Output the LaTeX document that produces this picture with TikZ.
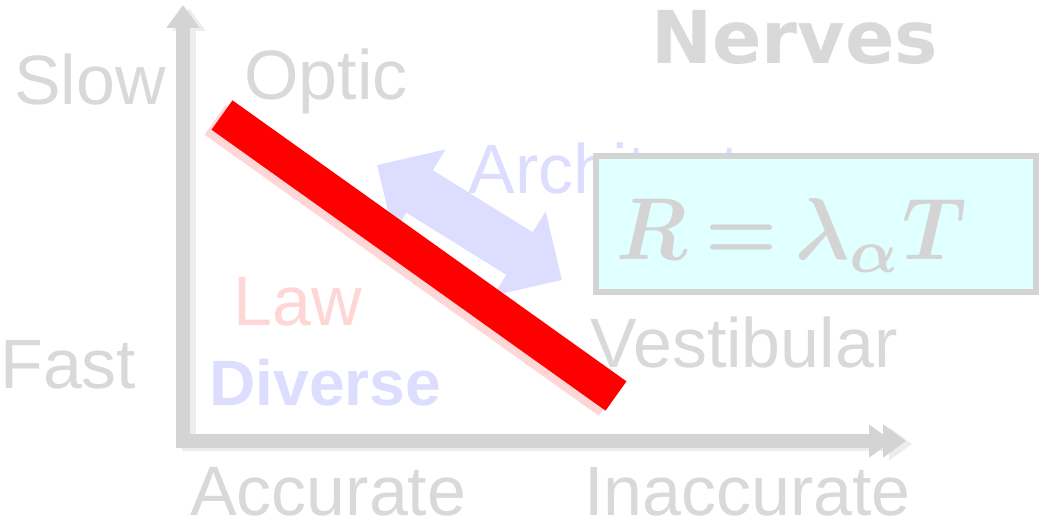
\documentclass[tikz,border=0pt]{standalone}
\usepackage{amsmath}
\usepackage{bm}
\usepackage{graphicx}
\usepackage{fontspec}
\setmainfont{Liberation Sans}
\newfontfamily\heavyfont{DejaVu Sans}
\usetikzlibrary{arrows.meta,positioning,calc}
\definecolor{ash}{HTML}{D9D9D9}
\definecolor{axisgray}{HTML}{D4D4D4}
\definecolor{haze}{HTML}{EDEDED}
\definecolor{lilac}{HTML}{DDDDFF}
\definecolor{blush}{HTML}{FFD6D6}
\definecolor{icecyan}{HTML}{E0FFFF}
\definecolor{signal}{HTML}{FF0000}

\begin{document}
\begin{tikzpicture}[x=0.02cm,y=-0.02cm,
    lbl/.style={font=\fontsize{39.8pt}{40pt}\selectfont,text=ash,inner sep=0pt,anchor=base west},
    axisline/.style={line width=8.5pt,axisgray,{Triangle[length=13pt,width=18pt]}-{Triangle[length=13pt,width=18pt]}},
    tradeoff/.style={line width=20.5pt,line cap=butt}]
  \useasboundingbox (0,0) rectangle (1043,527);
  % axes
  \coordinate (origin) at (183,441);
  \coordinate (ytop) at (183,5);
  \coordinate (xend) at (906,441);
  \draw[axisline,haze] ($(ytop)+(6,3)$) -- ($(origin)+(6,3)$) -- ($(xend)+(6,3)$);
  \draw[axisline] (ytop) -- (origin) -- (xend);
  \draw[axisgray,line width=8.5pt,-{Triangle[length=13pt,width=18pt]}] (870,441) -- (892,441);
  % trade-off arrow
  \coordinate (archA) at (377,165);
  \coordinate (archB) at (562,280);
  \draw[lilac,line width=28.5pt,{Triangle[length=28.5pt,width=54.6pt]}-{Triangle[length=28.5pt,width=54.6pt]}]
    (archA) -- (archB);
  \node[lbl,text=lilac] (arch) at (468,193) {Architecture};
  % formula box
  \draw[axisgray,line width=3.4pt,fill=icecyan] (596,156) rectangle (1036,292);
  \node[inner sep=0pt,anchor=base west,text=axisgray]
    (formula) at (616,259) {\scalebox{4.6}[5]{$\bm{R\mkern4mu{=}\mkern4mu\lambda_{\alpha}T}$}};
  % labels
  \node[lbl] (slow) at (14,104) {Slow};
  \node[lbl] (fast) at (0,388) {Fast};
  \node[lbl] (optic) at (244,99) {Optic};
  \node[lbl] (vest) at (590,367) {Vestibular};
  \node[lbl] (acc) at (190,515) {Accurate};
  \node[lbl] (inacc) at (584,515) {Inaccurate};
  \node[lbl,text=blush] (law) at (233,325) {Law};
  \node[lbl,text=lilac,font=\fontsize{36.5pt}{37pt}\selectfont\bfseries] (diverse) at (209,405) {Diverse};
  \node[lbl,font=\heavyfont\fontsize{41.5pt}{42pt}\selectfont\bfseries] (nerves) at (651,64) {Nerves};
  % the line
  \coordinate (slowacc) at (222,115);
  \coordinate (fastinacc) at (616,396);
  \draw[tradeoff,blush] ($(slowacc)+(-7,5)$) -- ($(fastinacc)+(-7,5)$);
  \draw[tradeoff,signal] (slowacc) -- (fastinacc);
\end{tikzpicture}
\end{document}
